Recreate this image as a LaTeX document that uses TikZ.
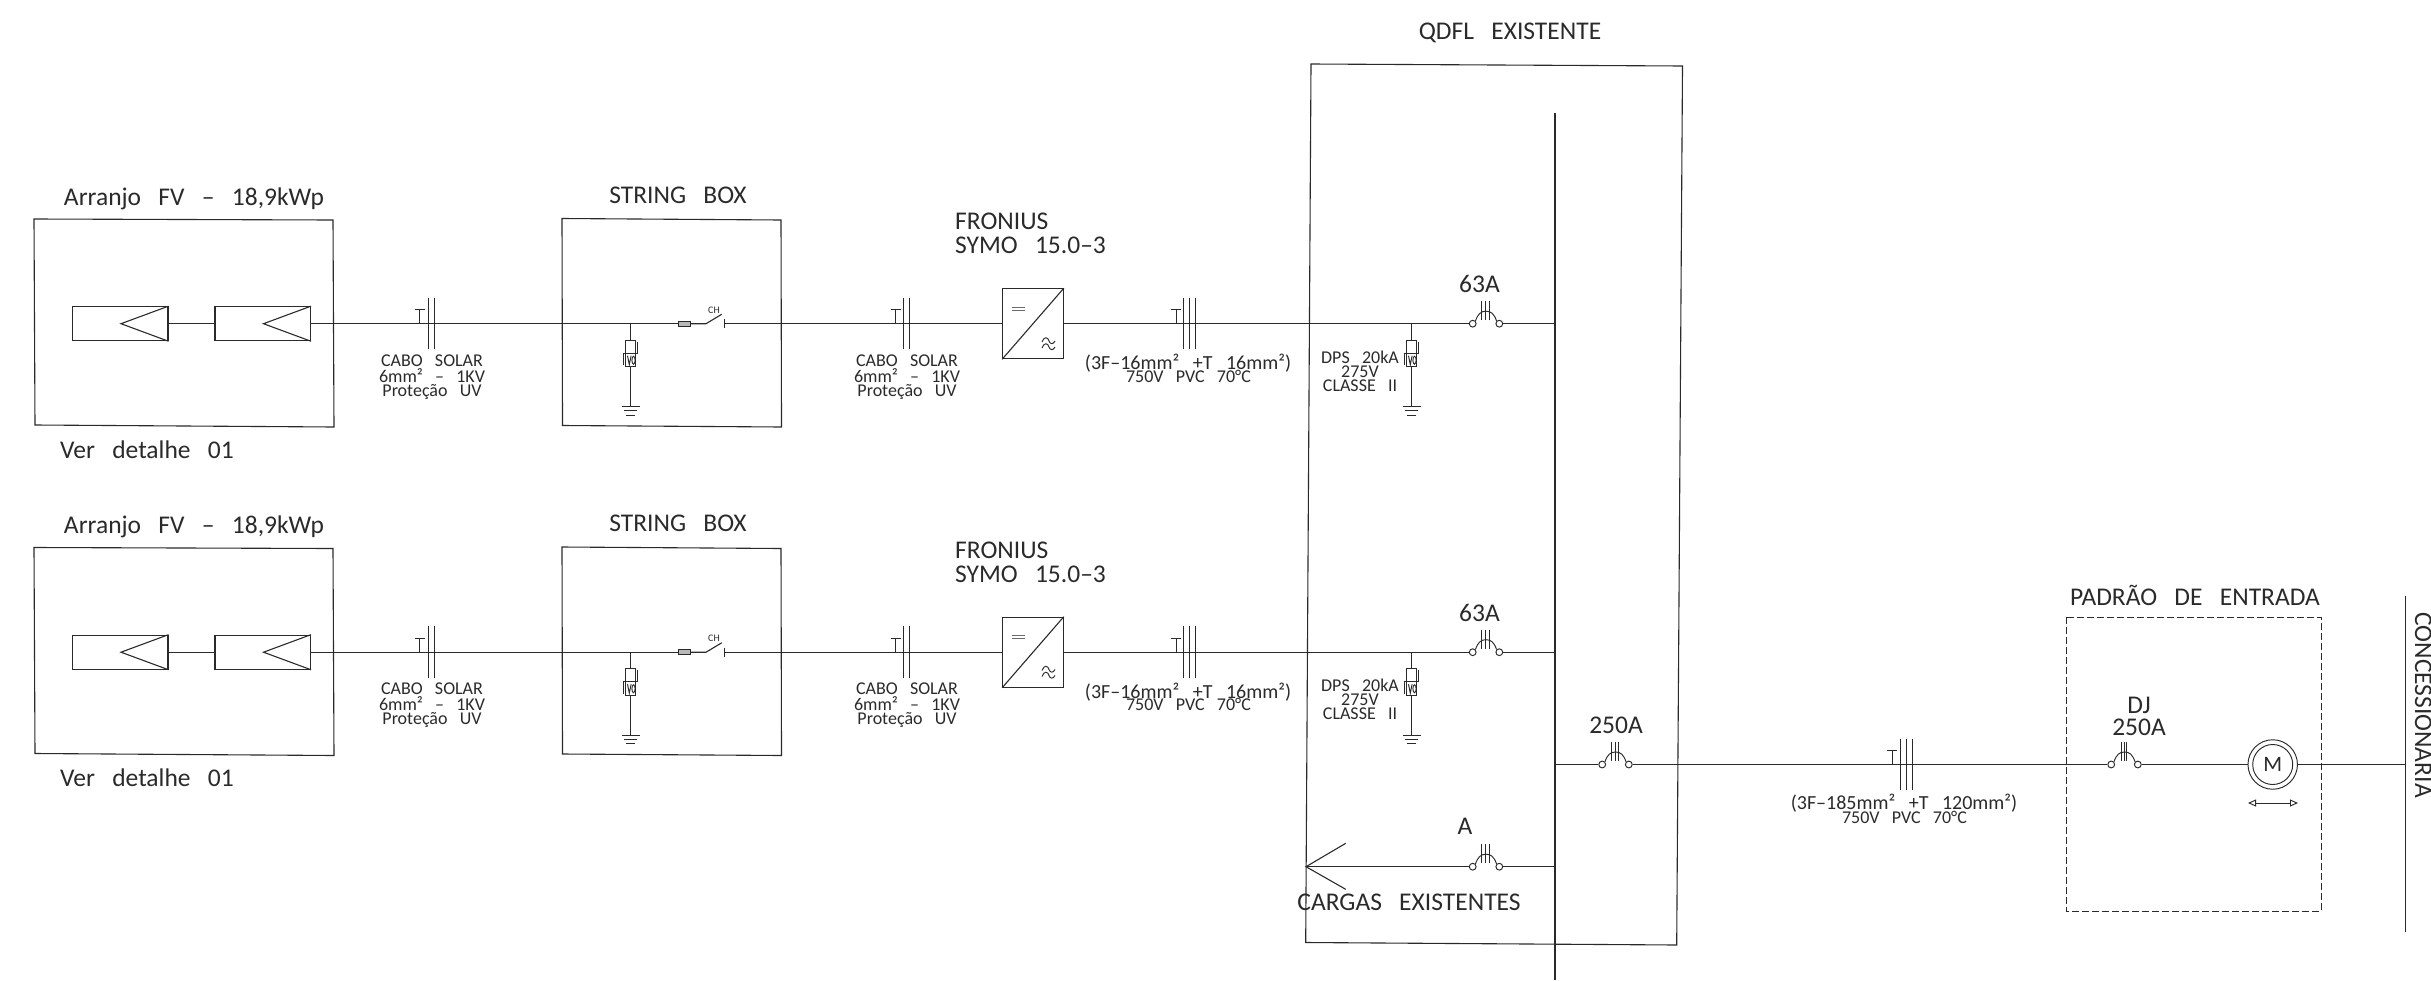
\documentclass[tikz,border=0pt]{standalone}
\usepackage{fontspec}
\setmainfont{Carlito}[WordSpace=3.0]
\usetikzlibrary{arrows.meta}
\definecolor{ink}{HTML}{2A2A2A}
\tikzset{
  wire/.style={draw=ink,line width=1.1pt},
  thin wire/.style={draw=ink,line width=0.95pt},
  big/.style={anchor=base,inner sep=0pt,text=ink,font=\fontsize{25.5}{25.5}\selectfont},
  bigw/.style={big,anchor=base west},
  small/.style={anchor=base,inner sep=0pt,text=ink,font=\fontsize{18}{18}\selectfont},
  wide small/.style={small,font=\fontsize{20}{20}\selectfont},
  tiny/.style={anchor=center,inner sep=0pt,text=ink,font=\fontsize{10}{10}\selectfont},
  pv/.style={draw=ink,line width=1.1pt,minimum width=95.5pt,minimum height=34pt,inner sep=0pt},
  contact/.style={circle,draw=ink,line width=0.95pt,fill=white,minimum size=6.8pt,inner sep=0pt},
  spdbox/.style={draw=ink,line width=0.95pt,minimum width=9.6pt,minimum height=13.4pt,inner sep=0pt},
  fusebox/.style={draw=ink,line width=0.95pt,fill=gray!55,minimum width=12pt,minimum height=4.8pt,inner sep=0pt},
  invbox/.style={draw=ink,line width=1.1pt,minimum width=60.6pt,minimum height=70pt,inner sep=0pt},
  meter/.style={circle,draw=ink,line width=0.95pt,inner sep=0pt},
}
% name, centre x, wire y, tick spacing
\newcommand\mybreaker[4]{%
  \node[contact] (#1-l) at (#2-13.3,#3) {};
  \node[contact] (#1-r) at (#2+13.3,#3) {};
  \draw[thin wire] (#1-l.north east) .. controls (#2-8,#3-10) and (#2-5,#3-12.5) .. (#2,#3-12.5)
     .. controls (#2+5,#3-12.5) and (#2+8,#3-10) .. (#1-r.north west);
  \foreach \dx in {-1,0,1} \draw[thin wire] (#2-0.5+\dx*#4,#3-22.5) -- (#2-0.5+\dx*#4,#3-3.5);
}
% T x, wire y, tick list
\newcommand\mycable[3]{%
  \draw[thin wire] (#1,#2) -- (#1,#2-14) (#1-5,#2-14) -- (#1+5,#2-14);
  \foreach \tx in {#3} \draw[thin wire] (\tx,#2-26) -- (\tx,#2+25.5);
}
% name, x, wire y
\newcommand\myspd[3]{%
  \coordinate (#1-j) at (#2,#3);
  \node[spdbox] (#1-u) at (#2,#3+23) {};
  \node[spdbox] (#1-d) at (#2,#3+36.4) {};
  \coordinate (#1-g) at (#2,#3+83);
  \draw[thin wire] (#1-j) -- (#1-u.north) (#1-d.south) -- (#1-g);
  \draw[thin wire] (#2+6.6,#3+18) -- (#2+6.6,#3+29.7) -- (#2+4.8,#3+29.7);
  \draw[thin wire] (#2-7,#3+41.5) -- (#2-7,#3+29.7) -- (#2-4.8,#3+29.7);
  \draw[thin wire] (#2-3.2,#3+32) -- (#2-1.4,#3+41) -- (#2+0.4,#3+32);
  \draw[thin wire] (#2+2.8,#3+36.5) ellipse (1.6pt and 4pt);
  \draw[thin wire] (#2-9,#3+83) -- (#2+9,#3+83) (#2-6.5,#3+87) -- (#2+6.5,#3+87) (#2-4.5,#3+91.5) -- (#2+4.5,#3+91.5);
}
% one full row, prefix
\newcommand\myrow[1]{%
  \def\wy{323.7}
  % PV array box and string box
  \draw[wire] (34,219) -- (333,220) -- (334,427) -- (35,425) -- cycle;
  \draw[wire] (562,218.5) -- (781,220) -- (781.5,427) -- (562.5,425.5) -- cycle;
  \node[big] (#1-arr) at (194,205) {Arranjo FV – 18,9kWp};
  \node[big] (#1-sb) at (678,203) {STRING BOX};
  \node[bigw] (#1-ver) at (60,458) {Ver detalhe 01};
  % modules
  \node[pv] (#1-m1) at (120.2,\wy) {};
  \node[pv] (#1-m2) at (262.7,\wy) {};
  \draw[wire] (#1-m1.north east) -- (121,\wy) -- (#1-m1.south east);
  \draw[wire] (#1-m2.north east) -- (263.5,\wy) -- (#1-m2.south east);
  \draw[wire] (#1-m1.east) -- (#1-m2.west);
  % string box parts
  \myspd{#1-s1}{630.7}{\wy}
  \node[fusebox] (#1-f) at (684.7,\wy) {};
  \coordinate (#1-swa) at (706,\wy);
  \coordinate (#1-swb) at (721.7,314.3);
  \coordinate (#1-swc) at (724.7,\wy);
  \draw[wire] (#1-m2.east) -- (#1-f.west);
  \draw[wire] (#1-f.east) -- (#1-swa) -- (#1-swb);
  \draw[wire] (724.7,319) -- (724.7,328);
  \node[tiny] (#1-ch) at (714,310) {CH};
  % inverter
  \node[invbox] (#1-inv) at (1033,\wy) {};
  \draw[wire] (#1-inv.south west) -- (#1-inv.north east);
  \draw[draw=ink!70,line width=1.1pt] (1011.5,307.3) -- (1024.5,307.3) (1011.5,310.4) -- (1024.5,310.4);
  \draw[thin wire] (1042,342) .. controls (1044,336) and (1048,337) .. (1049,341) .. controls (1050,344) and (1053,345) .. (1055,341);
  \draw[thin wire] (1042,348) .. controls (1044,342) and (1048,343) .. (1049,347) .. controls (1050,350) and (1053,351) .. (1055,347);
  \draw[wire] (#1-swc) -- (#1-inv.west);
  % cables
  \mycable{419.5}{\wy}{428,434.7}
  \mycable{895.5}{\wy}{903,909.3}
  \mycable{1176}{\wy}{1183.5,1189.5,1195.5}
  \foreach \cx/\nm in {432/a,907/b} {
    \node[small] (#1-c\nm1) at (\cx,366) {CABO SOLAR};
    \node[small] (#1-c\nm2) at (\cx,382) {6mm² – 1KV};
    \node[small] (#1-c\nm3) at (\cx,396) {Proteção UV};
  }
  \node[bigw] (#1-fr) at (955,229.5) {FRONIUS};
  \node[bigw] (#1-sy) at (955,253.5) {SYMO 15.0–3};
  \node[wide small] (#1-k1) at (1188,369.5) {(3F–16mm² +T 16mm²)};
  \node[small] (#1-k2) at (1188.5,382) {750V PVC 70°C};
  % QDFL parts
  \myspd{#1-s2}{1411.7}{\wy}
  \mybreaker{#1-b}{1486}{\wy}{3.6}
  \coordinate (#1-bus) at (1555,\wy);
  \draw[wire] (#1-inv.east) -- (#1-b-l.west);
  \draw[wire] (#1-b-r.east) -- (#1-bus);
  \node[big] (#1-i) at (1479.5,292.5) {63A};
  \node[small] (#1-d1) at (1360,363) {DPS 20kA};
  \node[small] (#1-d2) at (1360,377) {275V};
  \node[small] (#1-d3) at (1360,391) {CLASSE II};
}
\begin{document}
\begin{tikzpicture}[x=1pt,y=-1pt]
\useasboundingbox (0,0) rectangle (2431,980);
\begin{scope}\myrow{ra}\end{scope}
\begin{scope}[yshift=-328.5pt]\myrow{rb}\end{scope}
% QDFL panel
\draw[wire] (1311,64) -- (1682.5,66) -- (1676.7,945) -- (1305.7,942.5) -- cycle;
\node[big] (qdfl) at (1510,39.5) {QDFL EXISTENTE};
\coordinate (bustop) at (1555,113);
\coordinate (busbot) at (1555,980);
\draw[wire] (bustop) -- (busbot);
% loads feeder
\mybreaker{bc}{1486}{866.7}{3.6}
\coordinate (bus-c) at (1555,866.7);
\coordinate (load) at (1306,866.7);
\coordinate (loadu) at (1345.7,843.3);
\coordinate (loadd) at (1345.7,889.3);
\draw[wire] (bus-c) -- (bc-r.east);
\draw[wire] (bc-l.west) -- (load);
\draw[wire] (loadu) -- (load) -- (loadd);
\node[big] (la) at (1465,834.5) {A};
\node[big] (cargas) at (1409,910.5) {CARGAS EXISTENTES};
% main feeder
\coordinate (bus-m) at (1555,764.5);
\mybreaker{bm}{1615.5}{764.5}{3.6}
\node[big] (l250) at (1616,733.5) {250A};
\draw[wire] (bus-m) -- (bm-l.west);
\mycable{1892}{764.5}{1900.4,1906.5,1912.6}
\node[wide small] (k3) at (1904,809.5) {(3F–185mm² +T 120mm²)};
\node[small] (k4) at (1904.5,823) {750V PVC 70°C};
% entrance
\draw[thin wire,dash pattern=on 7pt off 3pt] (2066,617) rectangle (2321,911);
\node[big] (pad) at (2195,605.5) {PADRÃO DE ENTRADA};
\mybreaker{bd}{2124.5}{764.5}{2.6}
\node[big] (dj) at (2139,713.5) {DJ};
\node[big] (l250b) at (2139,735.5) {250A};
\node[meter,minimum size=49.5pt] (mo) at (2272.7,764.5) {};
\node[meter,minimum size=40pt,text=ink,font=\fontsize{22}{22}\selectfont] (mi) at (2272.7,764.5) {M};
\coordinate (arl) at (2248,803);
\coordinate (arr) at (2298,803);
\draw[thin wire,{Triangle[open,length=8pt,width=7pt]}-{Triangle[open,length=8pt,width=7pt]}] (arl) -- (arr);
\coordinate (gridtop) at (2405.6,596);
\coordinate (gridbot) at (2405.6,931.7);
\coordinate (gridm) at (2405.6,764.5);
\draw[wire] (gridtop) -- (gridbot);
\draw[wire] (bm-r.east) -- (bd-l.west);
\draw[wire] (bd-r.east) -- (mo.west);
\draw[wire] (mo.east) -- (gridm);
\node[big,rotate=-90] (conc) at (2415,705) {CONCESSIONARIA};
\end{tikzpicture}
\end{document}
